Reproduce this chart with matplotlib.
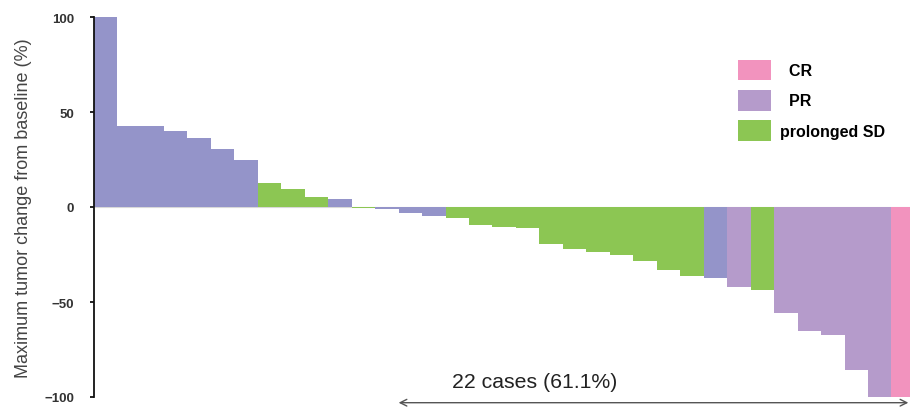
import matplotlib
matplotlib.use("Agg")
import matplotlib.pyplot as plt
from matplotlib.patches import Patch

plt.rcParams['font.family'] = ['Liberation Sans', 'DejaVu Sans']

# Maximum tumor change (%) per patient, sorted
values = [100, 42.6, 42.6, 40, 36.3, 30.5, 24.7,
          12.6, 9.5, 5.3, 4.0, -0.6, -1.0, -3.0, -4.5,
          -6.0, -9.3, -10.4, -11.0, -19.5, -22.3, -23.8, -25.3, -28.6, -33.0, -36.3,
          -37.5, -42.3, -43.5, -56.0, -65.0, -67.2, -86.0, -100.0, -100.0]
# response category per patient
groups = ['other'] * 7 + ['SD', 'SD', 'SD', 'other', 'SD', 'other', 'other', 'other'] + \
         ['SD'] * 11 + ['other', 'PR', 'SD', 'PR', 'PR', 'PR', 'PR', 'PR', 'CR']

colors = {'other': '#9494C9', 'SD': '#8CC653', 'PR': '#B59BCB', 'CR': '#F293BE'}
legend_labels = [('CR', '  CR'), ('PR', '  PR'), ('SD', 'prolonged SD')]
yticks = [100, 50, 0, -50, -100]
ylabel = 'Maximum tumor change from baseline (%)'
annot_text = '22 cases (61.1%)'
annot_start = 13  # index of first bar in the 22 cases

fig = plt.figure(figsize=(9.10, 4.14), dpi=100)
ax = fig.add_axes([93.5 / 910, 16 / 414, (910 - 93.5) / 910, 380 / 414])

x = list(range(len(values)))
ax.bar(x, values, width=1.0, align='edge',
       color=[colors[g] for g in groups], edgecolor='none')
ax.axhline(0, color='#d8d8d8', lw=0.8, zorder=0)

ax.set_xlim(0, 34.79)
ax.set_ylim(-100, 100)
for s in ['top', 'right', 'bottom']:
    ax.spines[s].set_visible(False)
ax.spines['left'].set_linewidth(1.3)
ax.spines['left'].set_color('#111111')
ax.set_xticks([])
ax.set_yticks(yticks)
ax.tick_params(axis='y', direction='out', length=3, width=1.3, color='#111111',
               labelsize=9.5, labelcolor='#333333', pad=11)
for lab in ax.get_yticklabels():
    lab.set_fontweight('bold')
ax.set_ylabel(ylabel, fontsize=13, color='#444444', labelpad=9)

# arrow + text
ax.annotate('', xy=(annot_start, -103), xytext=(34.72, -103),
            arrowprops=dict(arrowstyle='<->', color='#555555', lw=1.0,
                            shrinkA=0, shrinkB=0, mutation_scale=12),
            annotation_clip=False)
ax.text(18.8, -92, annot_text, ha='center', va='center',
        fontsize=15.3, color='#222222')

handles = [Patch(facecolor=colors[k], edgecolor='none') for k, _ in legend_labels]
leg = ax.legend(handles, [l for _, l in legend_labels], loc='upper left',
                bbox_to_anchor=(0.789, 0.888), frameon=False, borderpad=0,
                borderaxespad=0,
                handlelength=2.1, handleheight=1.6, labelspacing=0.62,
                handletextpad=0.55, prop={'size': 11.5, 'weight': 'bold'})

fig.savefig('out.png', dpi=100)
